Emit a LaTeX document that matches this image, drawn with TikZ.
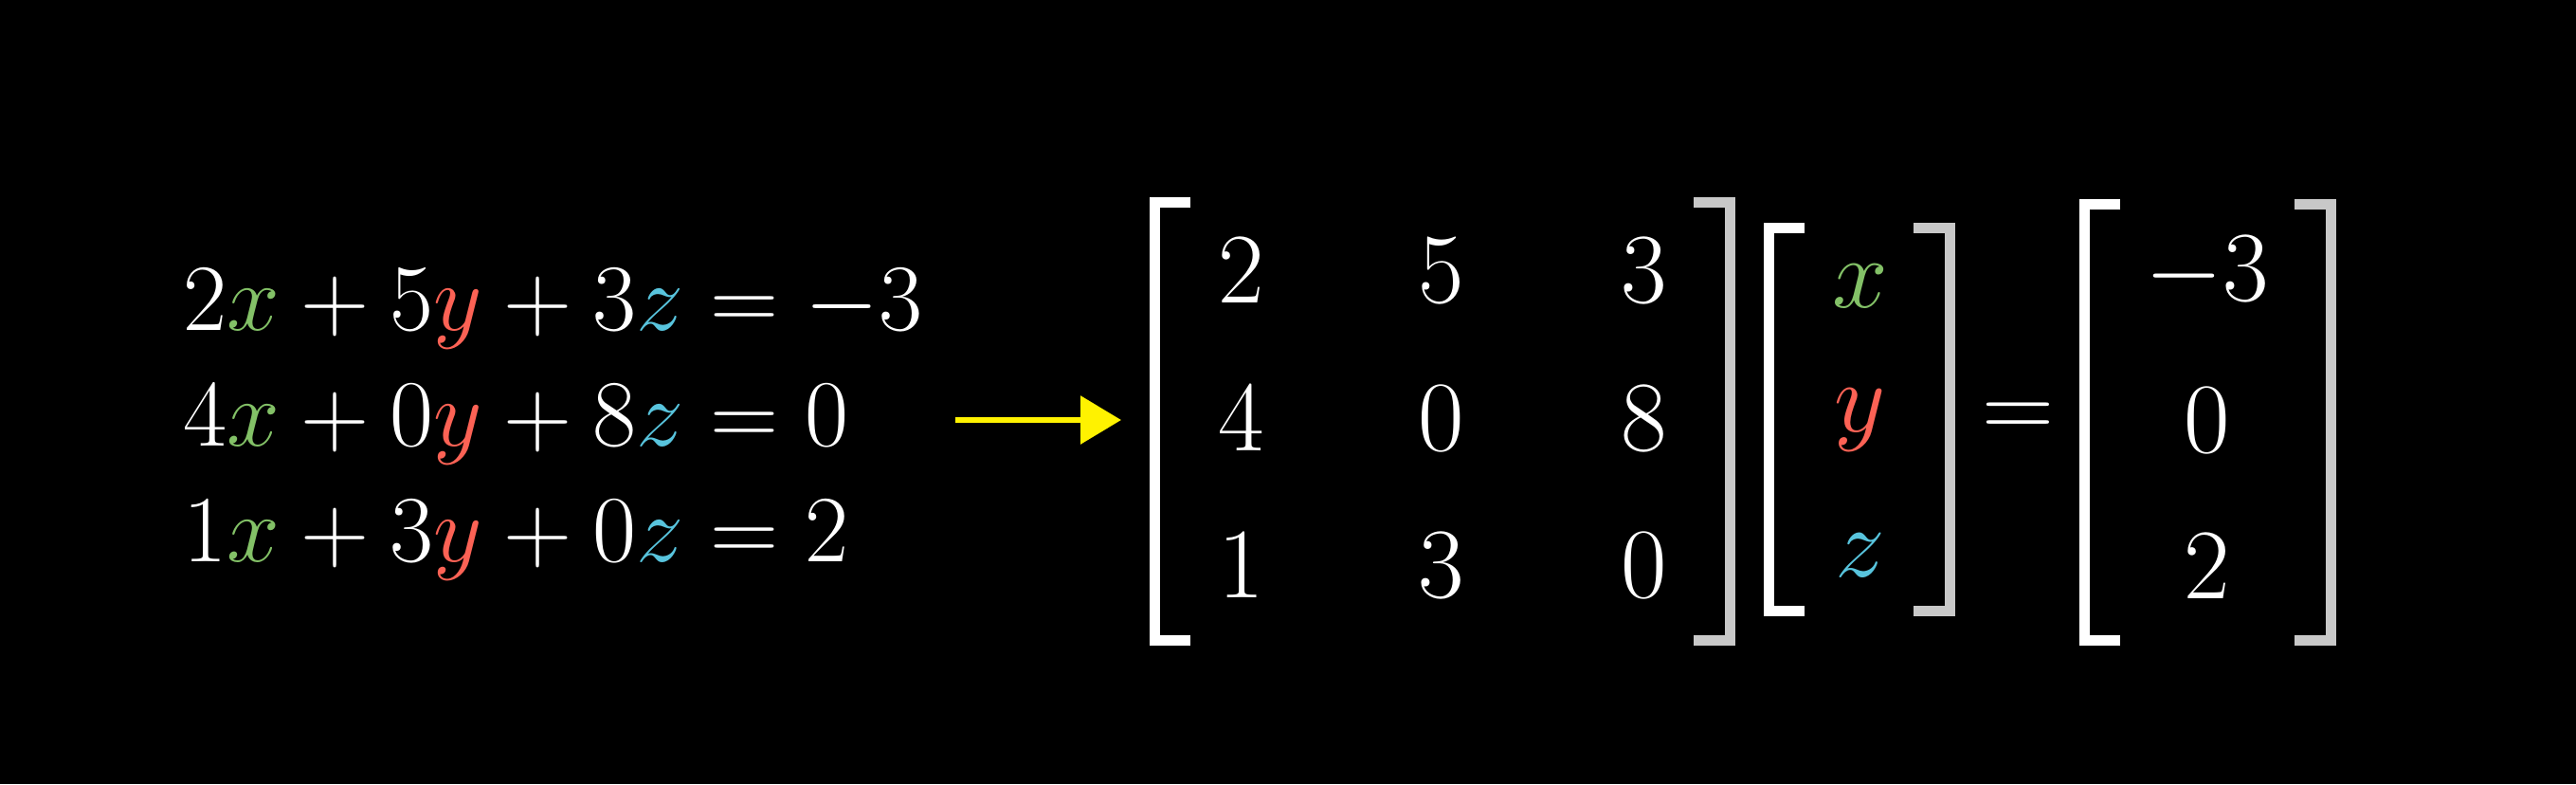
\RequirePackage{fix-cm}
\documentclass[tikz,border=0pt]{standalone}
\usepackage{amsmath}
\usepackage{tikz}
\usetikzlibrary{arrows.meta}
\definecolor{xgreen}{HTML}{83C167}
\definecolor{yred}{HTML}{FC6255}
\definecolor{zblue}{HTML}{58C4DD}
\definecolor{brakgray}{HTML}{C8C8C8}
\tikzset{
  >=latex,
}
\tikzstyle{every node}=[font=\fontsize{30}{36}\selectfont,white,inner sep=0pt]
\tikzstyle{eqn}=[anchor=base west,font=\fontsize{28.5}{34}\selectfont]
\tikzstyle{entry}=[anchor=center]
\tikzstyle{brak}=[line width=1.1mm,white,line join=miter]
\tikzstyle{arrow}=[line width=0.6mm,yellow,-{Triangle[length=4.3mm,width=5mm]}]
\newcommand{\varx}{\textcolor{xgreen}{x}}
\newcommand{\vary}{\textcolor{yred}{y}}
\newcommand{\varz}{\textcolor{zblue}{z}}
% left and right brackets: x, top, bottom
\newcommand{\lbrak}[3]{\draw[brak] (#1+0.38,#2) -- (#1,#2) -- (#1,#3) -- (#1+0.38,#3);}
\newcommand{\rbrak}[3]{\draw[brak,brakgray] (#1-0.38,#2) -- (#1,#2) -- (#1,#3) -- (#1-0.38,#3);}

\begin{document}
\begin{tikzpicture}
      \fill[black] (0,0) rectangle (27.18,8.27);
      \useasboundingbox (0,0) rectangle (27.18,8.27);
      % system of equations
      \node[eqn] (eq1) at (1.93,4.79) {$2\varx+5\vary+3\varz=-3$};
      \node[eqn] (eq2) at (1.93,3.57) {$4\varx+0\vary+8\varz=0$};
      \node[eqn] (eq3) at (1.93,2.35) {$1\varx+3\vary+0\varz=2$};
      \coordinate (arrowstart) at (10.08,3.84);
      \coordinate (arrowend) at (11.83,3.84);
      \draw[arrow] (arrowstart) -- (arrowend);
      % coefficient matrix
      \lbrak{12.18}{6.135}{1.515}
      \rbrak{18.25}{6.135}{1.515}
      \node[entry] (m11) at (13.10,5.41) {$2$};
      \node[entry] (m12) at (15.21,5.41) {$5$};
      \node[entry] (m13) at (17.35,5.41) {$3$};
      \node[entry] (m21) at (13.10,3.85) {$4$};
      \node[entry] (m22) at (15.21,3.85) {$0$};
      \node[entry] (m23) at (17.35,3.85) {$8$};
      \node[entry] (m31) at (13.10,2.30) {$1$};
      \node[entry] (m32) at (15.21,2.30) {$3$};
      \node[entry] (m33) at (17.35,2.30) {$0$};
      % unknowns
      \lbrak{18.66}{5.865}{1.825}
      \rbrak{20.57}{5.865}{1.825}
      \node[entry] (vx) at (19.63,5.25) {$\varx$};
      \node[entry] (vy) at (19.63,3.84) {$\vary$};
      \node[entry] (vz) at (19.63,2.41) {$\varz$};
      \node[entry] (eqsign) at (21.29,3.83) {$=$};
      % right-hand side
      \lbrak{21.99}{6.115}{1.515}
      \rbrak{24.59}{6.115}{1.515}
      \node[entry] (r1) at (23.29,5.39) {$-3$};
      \node[entry] (r2) at (23.29,3.83) {$0$};
      \node[entry] (r3) at (23.29,2.29) {$2$};
\end{tikzpicture}
\end{document}
